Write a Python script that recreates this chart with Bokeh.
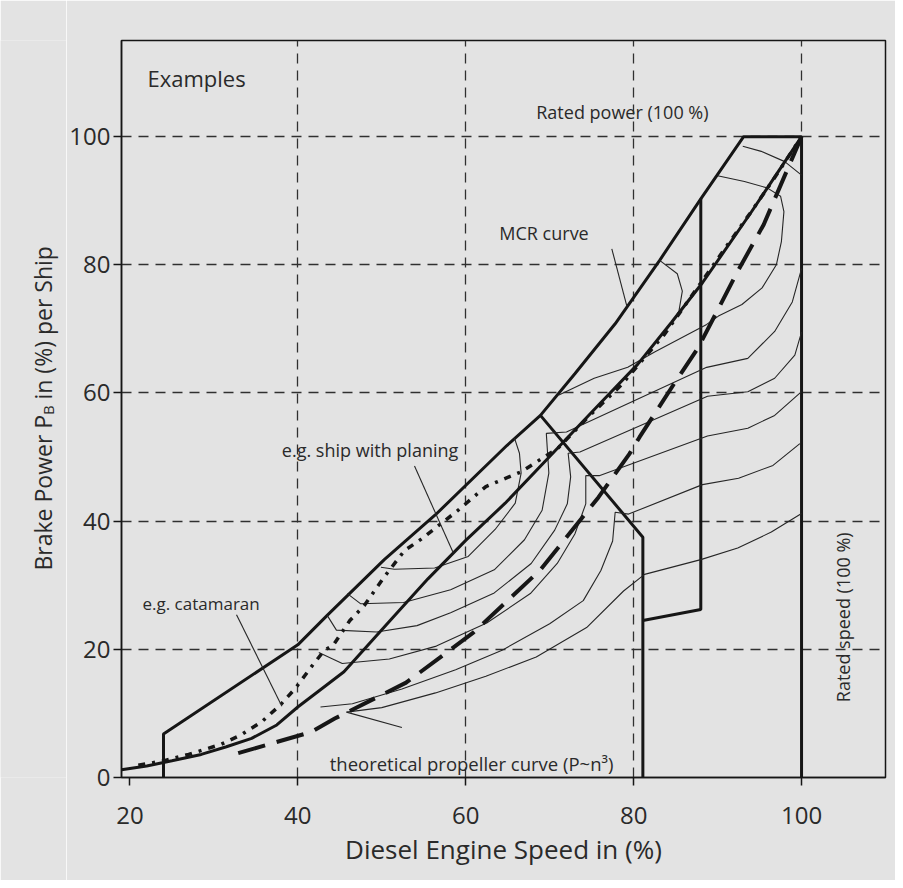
import math
from bokeh.plotting import figure
from bokeh.layouts import row
from bokeh.models import Range1d, FixedTicker, Label
from bokeh.embed import file_html
from bokeh.resources import INLINE

# ---------------- data ----------------
speed_ticks = [20, 40, 60, 80, 100]
power_ticks = [0, 20, 40, 60, 80, 100]
speed_grid = [40, 60, 80, 100]
power_grid = [20, 40, 60, 80, 100]

# MCR curve / operating envelope (thick solid), incl. rated power & rated speed
mcr_x = [24, 24, 40, 43.5, 46, 50.3, 56.4, 64.9, 68.9, 73, 77.8, 83.1, 88, 93.1, 100, 100]
mcr_y = [0, 6.8, 20.7, 25.3, 28.5, 34, 41, 51.8, 56.5, 63, 70.8, 80.7, 90.3, 100, 100, 0]

# limit lines of the engine map
limit_a_x = [68.9, 81.1, 81.1]
limit_a_y = [56.5, 37.5, 0]
limit_b_x = [81.1, 88, 88]
limit_b_y = [24.5, 26.2, 90.3]

# e.g. ship with planing (thick solid)
planing_x = [19, 22, 25, 28.5, 31.5, 34.5, 37.5, 40, 42.5, 45.5, 51, 55.5, 60, 64.7, 70, 75, 80.5, 84.5, 88.2, 94, 100]
planing_y = [1.2, 1.8, 2.6, 3.6, 4.8, 6.1, 8.2, 11, 13.5, 16.5, 24.5, 31, 37, 42.8, 50.1, 57, 64.5, 71, 77.2, 88.2, 100]

# e.g. catamaran (dotted)
catamaran_x = [21, 24, 27, 30.9, 33.3, 35.7, 37.9, 39.7, 41.8, 43.2, 44.2, 46.2, 47.9, 50.3, 52.7, 54.7,
               59, 62.4, 66.6, 71, 74.4, 78.5, 83.7, 87.8, 90.8, 93.9, 96.9, 100]
catamaran_y = [1.9, 2.6, 3.6, 5.2, 6.7, 8.7, 11.3, 13.9, 17.6, 19.9, 20.6, 24.5, 26.8, 31.3, 35.4, 37.2,
               41.6, 45.4, 47.7, 51.4, 56, 61.2, 69.2, 76.8, 82.4, 88.1, 93.8, 100]

# theoretical propeller curve (long dashes)
propeller_x = [32.9, 41.6, 44.4, 52.9, 60.9, 68.9, 75.8, 79.5, 80.7, 84.8, 87.7, 92.4, 95.5, 100]
propeller_y = [3.8, 7.1, 9.2, 14.8, 22.6, 32.4, 43.7, 50.5, 53.1, 61.4, 67.1, 79, 86.3, 100]

# thin iso-lines of the engine map
iso1_x = [93, 95.2, 98, 100]
iso1_y = [98.5, 97.7, 96.1, 94]
iso2_x = [90, 93.2, 95.9, 97.5, 97.9, 97.6, 97, 95.3, 92.9, 90.1, 88.7, 82.5, 79.3, 75.3, 71.1]
iso2_y = [93.9, 93, 92, 90.7, 88.3, 83.6, 80, 76.4, 73.8, 72, 70.7, 66.4, 64, 62.3, 59.7]
iso3_x = [83.1, 85.2, 85.8, 85.4, 84.5]
iso3_y = [80.7, 78.6, 75.9, 72.8, 70.8]
iso4_x = [49.9, 51.5, 56.3, 60.3, 63.5, 65.9, 66.6, 66.4, 65.8]
iso4_y = [32.8, 32.5, 32.7, 34.5, 38.7, 42.8, 47.5, 50.6, 53]
iso5_x = [45.9, 47.5, 52.6, 58.2, 63.4, 67, 69.1, 69.9, 69.6, 72, 88.7, 93.6, 96.8, 98.9, 100]
iso5_y = [28.7, 27.1, 27.3, 29.3, 32.4, 37.1, 41.7, 47.5, 53.7, 53.9, 64, 65.4, 69.6, 74.2, 79.4]
iso6_x = [43.5, 44.6, 49.4, 54.2, 58.2, 63.4, 67.8, 70.6, 72.1, 72.5, 72.2, 73.6, 88.8, 93.6, 96.8, 99.2, 100]
iso6_y = [25.3, 23, 22.7, 23.7, 25.7, 28.8, 33.4, 38.6, 42.7, 46.9, 50.6, 50.8, 59.5, 60.2, 62.3, 65.9, 69.5]
iso7_x = [42.5, 45.3, 50.9, 56.5, 62.5, 67.7, 70.9, 73, 74.3, 74.3, 75.9, 88.8, 93.6, 96.8, 100]
iso7_y = [19.5, 17.8, 18.5, 20.5, 24.1, 28.7, 33.4, 38, 42.7, 47.1, 47.1, 53.3, 54.5, 56.5, 60.2]
iso8_x = [42.7, 46.5, 52.4, 58.8, 64.4, 70, 74, 76.1, 77.5, 77.8, 79.4, 88.2, 92.5, 96.6, 99.8]
iso8_y = [11, 11.5, 13.8, 16.8, 19.9, 24, 27.6, 32.3, 36.9, 41.4, 41.1, 45.7, 46.7, 48.7, 52.1]
iso9_x = [45.8, 50, 56.4, 62.4, 68.4, 74.4, 78.8, 81.3, 88, 92.4, 96.4, 100]
iso9_y = [10.2, 10.9, 13.2, 15.8, 18.8, 23.4, 29.1, 31.7, 34, 35.8, 38.3, 41.2]

# leader lines of the annotations
leader_catamaran_x = [32.7, 38.1]
leader_catamaran_y = [25.4, 11.1]
leader_planing_x = [53.9, 58.5]
leader_planing_y = [48.6, 35.1]
leader_mcr_x = [77.4, 79.2]
leader_mcr_y = [82.5, 73.5]
leader_propeller_x = [52.4, 45.8]
leader_propeller_y = [7.8, 10.2]

# ---------------- styling ----------------
FONT = "Open Sans"
INK = "#161616"
TXT = "#2a2a2a"
BG = "#e3e3e3"
H = 880
TOP, BOTTOM = 40, 103
TITLE_W = 66

# ---------------- main figure ----------------
p = figure(width=895 - TITLE_W, height=H, x_range=Range1d(19, 110), y_range=Range1d(0, 115),
           output_backend="svg", toolbar_location=None,
           min_border_left=121 - TITLE_W, min_border_right=10,
           min_border_top=TOP, min_border_bottom=BOTTOM)
p.background_fill_color = BG
p.border_fill_color = BG
p.outline_line_color = INK
p.outline_line_width = 1.5

p.xaxis.ticker = FixedTicker(ticks=speed_ticks)
p.yaxis.ticker = FixedTicker(ticks=power_ticks)
p.xgrid.ticker = FixedTicker(ticks=speed_grid)
p.ygrid.ticker = FixedTicker(ticks=power_grid)
for g in (p.xgrid, p.ygrid):
    g.grid_line_color = "#303030"
    g.grid_line_dash = "10 7"
    g.grid_line_width = 1.3

for ax in (p.xaxis, p.yaxis):
    ax.axis_line_color = INK
    ax.axis_line_width = 1.5
    ax.major_tick_out = 8
    ax.major_tick_in = 0
    ax.major_tick_line_color = INK
    ax.major_tick_line_width = 1.5
    ax.minor_tick_line_color = None
    ax.major_label_text_font = FONT
    ax.major_label_text_font_size = "24px"
    ax.major_label_text_color = TXT
p.xaxis.major_label_standoff = 21
p.yaxis.major_label_standoff = 3
p.xaxis.axis_label = "Diesel Engine Speed in (%)"
p.xaxis.axis_label_text_font = FONT
p.xaxis.axis_label_text_font_size = "26px"
p.xaxis.axis_label_text_font_style = "normal"
p.xaxis.axis_label_text_color = TXT
p.xaxis.axis_label_standoff = 4

# curves
p.line(mcr_x, mcr_y, line_width=3, color=INK)
p.line(limit_a_x, limit_a_y, line_width=3, color=INK)
p.line(limit_b_x, limit_b_y, line_width=3, color=INK)
p.multi_line([iso1_x, iso2_x, iso3_x, iso4_x, iso5_x, iso6_x, iso7_x, iso8_x, iso9_x],
             [iso1_y, iso2_y, iso3_y, iso4_y, iso5_y, iso6_y, iso7_y, iso8_y, iso9_y],
             line_width=1.1, color="#262626")
p.line(planing_x, planing_y, line_width=3, color=INK)
p.line(catamaran_x, catamaran_y, line_width=3.5, color=INK, line_dash="7 7 3 7")
p.line(propeller_x, propeller_y, line_width=4, color=INK, line_dash="28 12")
p.multi_line([leader_catamaran_x, leader_planing_x, leader_mcr_x, leader_propeller_x],
             [leader_catamaran_y, leader_planing_y, leader_mcr_y, leader_propeller_y],
             line_width=1.1, color="#262626")


def note(fig, x, y, text, size="18px", angle=0.0, align="left", baseline="middle"):
    fig.add_layout(Label(x=x, y=y, text=text, text_font=FONT, text_font_size=size,
                         text_color=TXT, angle=angle, text_align=align, text_baseline=baseline))


note(p, 22.1, 109.2, "Examples", size="22px")
note(p, 68.4, 103.8, "Rated power (100 %)")
note(p, 64.0, 84.9, "MCR curve")
note(p, 38.1, 51.1, "e.g. ship with planing")
note(p, 21.5, 27.2, "e.g. catamaran", size="17px")
note(p, 43.8, 2.2, "theoretical propeller curve (P~n\u00b3)", size="18.5px")
note(p, 104.9, 25.0, "Rated speed (100 %)", angle=math.pi / 2, align="center")

# ---------------- y-axis title panel (subscript B) ----------------
t = figure(width=TITLE_W, height=H, x_range=Range1d(0, TITLE_W), y_range=Range1d(0, 115),
           output_backend="svg", toolbar_location=None, x_axis_type=None, y_axis_type=None,
           min_border_left=0, min_border_right=0, min_border_top=TOP, min_border_bottom=BOTTOM)
t.background_fill_color = BG
t.border_fill_color = BG
t.outline_line_color = None
t.xgrid.visible = False
t.ygrid.visible = False

YS = 23
px_per_y = (H - TOP - BOTTOM) / 115.0
y0 = 32.3
w_main = 6.76 * YS / px_per_y
w_sub = 0.635 * 15 / px_per_y
w_space = 0.26 * YS / px_per_y
note(t, 42, y0, "Brake Power P", size=f"{YS}px", angle=math.pi / 2)
note(t, 47, y0 + w_main, "B", size="15px", angle=math.pi / 2)
note(t, 42, y0 + w_main + w_sub + w_space, "in (%) per Ship", size=f"{YS}px", angle=math.pi / 2)

layout = row(t, p, spacing=0)
open("out.html", "w").write(file_html(layout, INLINE))
